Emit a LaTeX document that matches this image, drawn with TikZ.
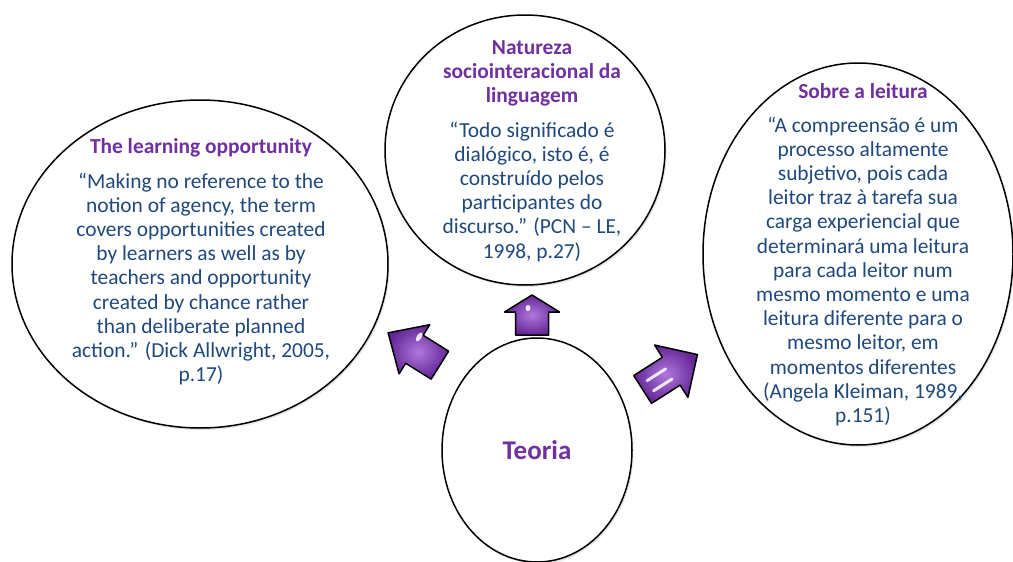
\documentclass[tikz,border=0pt]{standalone}
\usepackage{fontspec}
\setmainfont{Carlito}
\usetikzlibrary{shapes.geometric,shadows}

\definecolor{titlepurple}{RGB}{112,48,160}
\definecolor{quoteblue}{RGB}{31,73,125}
\definecolor{arrowdark}{RGB}{100,38,150}
\definecolor{arrowlight}{RGB}{175,120,220}

% block arrow: centre, angle, length, half shaft, half head, head length, glints
\newcommand{\glossyarrow}[7]{%
	\begin{scope}[shift={#1}, rotate=#2]
		\draw[arrowbody] (-#3/2,-#4) -- ({#3/2-#6},-#4) -- ({#3/2-#6},-#5)
			-- (#3/2,0) -- ({#3/2-#6},#5) -- ({#3/2-#6},#4) -- (-#3/2,#4) -- cycle;
		#7
	\end{scope}}

\begin{document}
\begin{tikzpicture}[x=1pt,y=-1pt,
	bubble/.style={ellipse, draw, line width=1.5pt, fill=white, inner sep=0pt,
		drop shadow={opacity=0.2, shadow xshift=1.5pt, shadow yshift=-2pt}},
	quote/.style={align=center, text=quoteblue, inner sep=0pt,
		font=\fontsize{21.4}{24.2}\selectfont},
	arrowbody/.style={draw, line width=1.5pt, line join=round,
		inner color=arrowlight, outer color=arrowdark},
	glint/.style={white, opacity=0.85, line width=3pt, line cap=round}]

	\fill[white] (0,0) rectangle (1013,562);
	\useasboundingbox (0,0) rectangle (1013,562);

	% the four bubbles
	\node (learning) [bubble, minimum width=376, minimum height=328] at (200, 264) {};
	\node (nature) [bubble, minimum width=280, minimum height=270] at (525, 150) {};
	\node (reading) [bubble, minimum width=310, minimum height=382] at (858, 254) {};
	\node (theory) [bubble, minimum width=190, minimum height=224, text=titlepurple,
		font=\fontsize{27}{30}\selectfont\bfseries] at (537, 450) {Teoria};

	% texts in the bubbles
	\node (learningtxt) [quote] at (201, 262) {%
		\textcolor{titlepurple}{\bfseries The learning opportunity}\\[10pt]
		“Making no reference to the\\
		notion of agency, the term\\
		covers opportunities created\\
		by learners as well as by\\
		teachers and opportunity\\
		created by chance rather\\
		than deliberate planned\\
		action.” (Dick Allwright, 2005,\\
		p.17)};
	\node (naturetxt) [quote] at (532, 151) {%
		\textcolor{titlepurple}{\bfseries Natureza}\\
		\textcolor{titlepurple}{\bfseries sociointeracional da}\\
		\textcolor{titlepurple}{\bfseries linguagem}\\[10pt]
		“Todo significado é\\
		dialógico, isto é, é\\
		construído pelos\\
		participantes do\\
		discurso.” (PCN – LE,\\
		1998, p.27)};
	\node (readingtxt) [quote] at (863, 255) {%
		\textcolor{titlepurple}{\bfseries Sobre a leitura}\\[9pt]
		“A compreensão é um\\
		processo altamente\\
		subjetivo, pois cada\\
		leitor traz à tarefa sua\\
		carga experiencial que\\
		determinará uma leitura\\
		para cada leitor num\\
		mesmo momento e uma\\
		leitura diferente para o\\
		mesmo leitor, em\\
		momentos diferentes\\
		(Angela Kleiman, 1989,\\
		p.151)};

	% arrows out of the theory bubble
	\glossyarrow{(414,349)}{148}{61}{16.5}{29}{31}{%
		\fill[white, opacity=0.85] (2,13) ellipse (2.5 and 5);}
	\glossyarrow{(532,315)}{90}{40}{16.5}{27.5}{17}{%
		\fill[white, opacity=0.85] (7,-4) ellipse (3 and 2.5);}
	\glossyarrow{(670,372)}{32.5}{65}{16.5}{31}{31}{%
		\draw[glint] (-24,-5) -- (-2,-5);
		\draw[glint] (-24,7) -- (-2,7);}

\end{tikzpicture}
\end{document}
